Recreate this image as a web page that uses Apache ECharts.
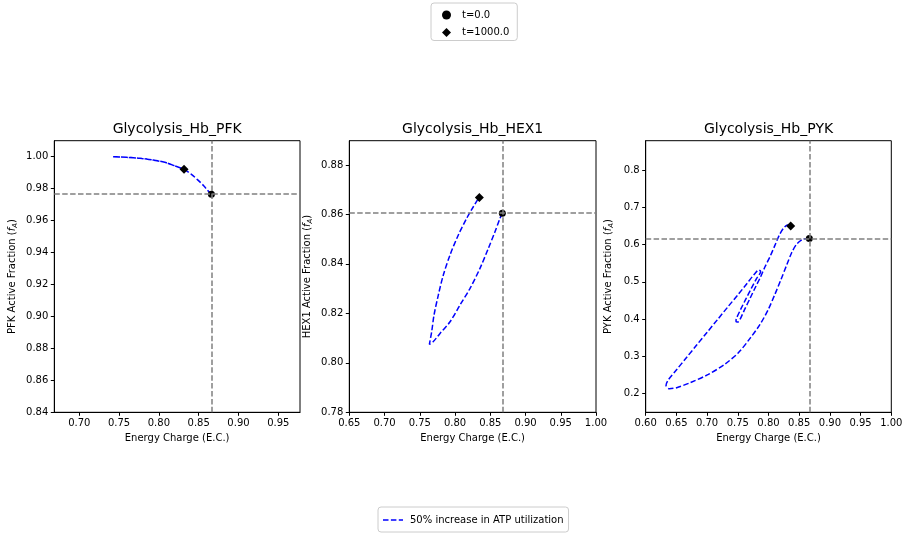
<!DOCTYPE html>
<html><head><meta charset="utf-8">
<script src="https://cdn.jsdelivr.net/npm/echarts@6/dist/echarts.min.js"></script>
<style>html,body{margin:0;padding:0;background:#fff}#c{width:909px;height:537px}</style>
</head><body><div id="c"></div>
<script>
// ---------------- data ----------------
const panelTitles = ['Glycolysis_Hb_PFK', 'Glycolysis_Hb_HEX1', 'Glycolysis_Hb_PYK'];
const enzymeNames = ['PFK', 'HEX1', 'PYK'];
const xAxisName = 'Energy Charge (E.C.)';
const markerNames = ['t=0.0', 't=1000.0'];
const lineName = '50% increase in ATP utilization';

// PFK trajectory (t=0 -> t=1000)
const pfkEC = [0.8660, 0.8617, 0.8563, 0.8491, 0.8409, 0.8316, 0.8199, 0.8074, 0.7927, 0.7761, 0.7594, 0.7419,
               0.7594, 0.7761, 0.7927, 0.8074, 0.8199, 0.8316];
const pfkFA = [0.9762, 0.9783, 0.9815, 0.9850, 0.9886, 0.9917, 0.9939, 0.9961, 0.9975, 0.9986, 0.9992, 0.9996,
               0.9992, 0.9986, 0.9975, 0.9961, 0.9939, 0.9917];

// HEX1 trajectory
const hexEC = [0.8671, 0.8638, 0.8567, 0.8473, 0.8354, 0.8213, 0.8071, 0.7929, 0.7787, 0.7692, 0.7636,
               0.7669, 0.7702, 0.7763, 0.7834, 0.7929, 0.8047, 0.8165, 0.8260, 0.8317, 0.8345];
const hexFA = [0.8605, 0.8584, 0.8530, 0.8463, 0.8382, 0.8301, 0.8234, 0.8166, 0.8119, 0.8086, 0.8075,
               0.8126, 0.8193, 0.8274, 0.8355, 0.8436, 0.8517, 0.8584, 0.8631, 0.8658, 0.8668];

// PYK trajectory
const pykEC = [0.8665, 0.8556, 0.8459, 0.8377, 0.8296, 0.8204, 0.8106, 0.7997, 0.7862, 0.7699, 0.7509, 0.7292,
               0.7020, 0.6722, 0.6504, 0.6385, 0.6331, 0.6374, 0.6499, 0.6662, 0.6830, 0.6998, 0.7172, 0.7340,
               0.7498, 0.7650, 0.7780, 0.7840, 0.7872, 0.7807, 0.7720, 0.7628, 0.7541, 0.7476, 0.7471, 0.7498,
               0.7536, 0.7606, 0.7699, 0.7791, 0.7872, 0.7943, 0.8024, 0.8106, 0.8176, 0.8242, 0.8312, 0.8361];
const pykFA = [0.6170, 0.6143, 0.6017, 0.5784, 0.5452, 0.5066, 0.4672, 0.4259, 0.3856, 0.3479, 0.3093, 0.2788,
               0.2510, 0.2286, 0.2152, 0.2125, 0.2214, 0.2376, 0.2627, 0.2959, 0.3299, 0.3640, 0.3990, 0.4331,
               0.4645, 0.4959, 0.5228, 0.5317, 0.5281, 0.5093, 0.4824, 0.4528, 0.4241, 0.4008, 0.3936, 0.3918,
               0.3990, 0.4241, 0.4555, 0.4869, 0.5138, 0.5407, 0.5676, 0.5990, 0.6259, 0.6438, 0.6528, 0.6501];

// markers
const startEC = [0.8660, 0.8671, 0.8665];
const startFA = [0.9762, 0.8605, 0.6170];
const endEC = [0.8316, 0.8345, 0.8361];
const endFA = [0.9917, 0.8668, 0.6501];

// axis ranges
const xRanges = [[0.6686, 0.9773], [0.65, 1.00], [0.60, 1.00]];
const yRanges = [[0.84, 1.0096], [0.78, 0.8898], [0.149, 0.88]];
const yDecimals = [2, 2, 1];

// ---------------- chart ----------------
const FONT = 'DejaVu Sans';
const trajEC = [pfkEC, hexEC, pykEC];
const trajFA = [pfkFA, hexFA, pykFA];
const zip = (a, b) => a.map((v, i) => [v, b[i]]);

const grids = [
  {left: 54.3, top: 140.7, width: 245.7, height: 271.6},
  {left: 349.3, top: 140.7, width: 246.7, height: 271.6},
  {left: 645.7, top: 140.7, width: 245.6, height: 271.6}
];
const xSplit = [6, null, null];
const ySplit = [8, 5, 7];
const yGap = [36, 36, 31];

const DASH = [5.5, 2.4];
const option = {
  animation: false,
  backgroundColor: '#fff',
  title: grids.map((g, i) => ({
    text: panelTitles[i],
    left: g.left + g.width / 2,
    top: 122,
    textAlign: 'center',
    padding: 0,
    textStyle: {fontFamily: FONT, fontSize: 14, fontWeight: 'normal', color: '#000'}
  })),
  legend: [
    {
      data: [{name: markerNames[0], icon: 'circle'}, {name: markerNames[1], icon: 'diamond'}],
      orient: 'vertical', left: 431, top: 3,
      padding: [7, 8, 3, 11], itemWidth: 9, itemHeight: 9, itemGap: 7.5, symbolKeepAspect: true,
      borderColor: '#cccccc', borderWidth: 1, borderRadius: 3, selectedMode: false,
      itemStyle: {color: '#000', opacity: 1},
      textStyle: {fontFamily: FONT, fontSize: 10, color: '#000', padding: [0, 0, 0, 6]}
    },
    {
      data: [{name: lineName, icon: 'path://M0,0h5.5v1.5h-5.5z M7.9,0h5.5v1.5h-5.5z M15.8,0h4.2v1.5h-4.2z'}],
      left: 378, top: 507,
      padding: [8, 5, 7, 5], itemWidth: 20, itemHeight: 10,
      borderColor: '#cccccc', borderWidth: 1, borderRadius: 3, selectedMode: false,
      itemStyle: {color: '#0000ff'},
      textStyle: {fontFamily: FONT, fontSize: 10, color: '#000', padding: [0, 0, 0, 2]}
    }
  ],
  grid: grids.map(g => Object.assign({show: true, borderColor: '#000', borderWidth: 1, containLabel: false}, g)),
  xAxis: grids.map((g, i) => {
    const ax = {
      type: 'value', gridIndex: i, min: xRanges[i][0], max: xRanges[i][1],
      name: xAxisName, nameLocation: 'middle', nameGap: 19,
      nameTextStyle: {fontFamily: FONT, fontSize: 10, color: '#000'},
      axisLine: {show: true, onZero: false, lineStyle: {color: '#000', width: 1}},
      axisTick: {show: true, length: 3.5, lineStyle: {color: '#000'}},
      splitLine: {show: false},
      axisLabel: {
        fontFamily: FONT, fontSize: 10, color: '#000', margin: 6,
        showMinLabel: xSplit[i] == null, showMaxLabel: xSplit[i] == null,
        formatter: v => v.toFixed(2)
      }
    };
    if (xSplit[i] == null) ax.interval = 0.05; else ax.splitNumber = xSplit[i];
    return ax;
  }),
  yAxis: grids.map((g, i) => ({
    type: 'value', gridIndex: i, min: yRanges[i][0], max: yRanges[i][1], splitNumber: ySplit[i],
    name: enzymeNames[i] + ' Active Fraction ({it|f}{sub|A})', nameLocation: 'middle', nameGap: yGap[i], nameRotate: 90,
    nameTextStyle: {fontFamily: FONT, fontSize: 10, color: '#000',
      rich: {it: {fontFamily: FONT, fontSize: 10, fontStyle: 'italic', color: '#000'},
             sub: {fontFamily: FONT, fontSize: 7, fontStyle: 'italic', color: '#000', padding: [5, 0, 0, 0]}}},
    axisLine: {show: true, onZero: false, lineStyle: {color: '#000', width: 1}},
    axisTick: {show: true, length: 3.5, lineStyle: {color: '#000'}},
    splitLine: {show: false},
    axisLabel: {
      fontFamily: FONT, fontSize: 10, color: '#000', margin: 6,
      showMinLabel: i !== 2, showMaxLabel: false,
      formatter: v => v.toFixed(yDecimals[i])
    }
  })),
  series: []
};

for (let i = 0; i < 3; i++) {
  option.series.push({
    name: 'ref' + i, type: 'line', xAxisIndex: i, yAxisIndex: i, data: [], z: 1,
    markLine: {
      silent: true, symbol: ['none', 'none'], label: {show: false}, precision: 6,
      lineStyle: {color: '#808080', type: DASH, width: 1.5},
      data: [{xAxis: startEC[i]}, {yAxis: startFA[i]}]
    }
  });
  option.series.push({
    name: lineName, type: 'line', xAxisIndex: i, yAxisIndex: i, z: 2,
    data: zip(trajEC[i], trajFA[i]), symbol: 'none', showSymbol: false, smooth: 0.3,
    lineStyle: {color: '#0000ff', width: 1.5, type: DASH}, itemStyle: {color: '#0000ff'}
  });
  option.series.push({
    name: markerNames[0], type: 'scatter', xAxisIndex: i, yAxisIndex: i, z: 4,
    symbol: 'circle', symbolSize: 7, itemStyle: {color: '#000', opacity: 1},
    data: [[startEC[i], startFA[i]]]
  });
  option.series.push({
    name: markerNames[1], type: 'scatter', xAxisIndex: i, yAxisIndex: i, z: 4,
    symbol: 'diamond', symbolSize: 9, itemStyle: {color: '#000', opacity: 1},
    data: [[endEC[i], endFA[i]]]
  });
}

const chart = echarts.init(document.getElementById('c'), null, {renderer: 'canvas'});
chart.setOption(option);
</script>
</body></html>
